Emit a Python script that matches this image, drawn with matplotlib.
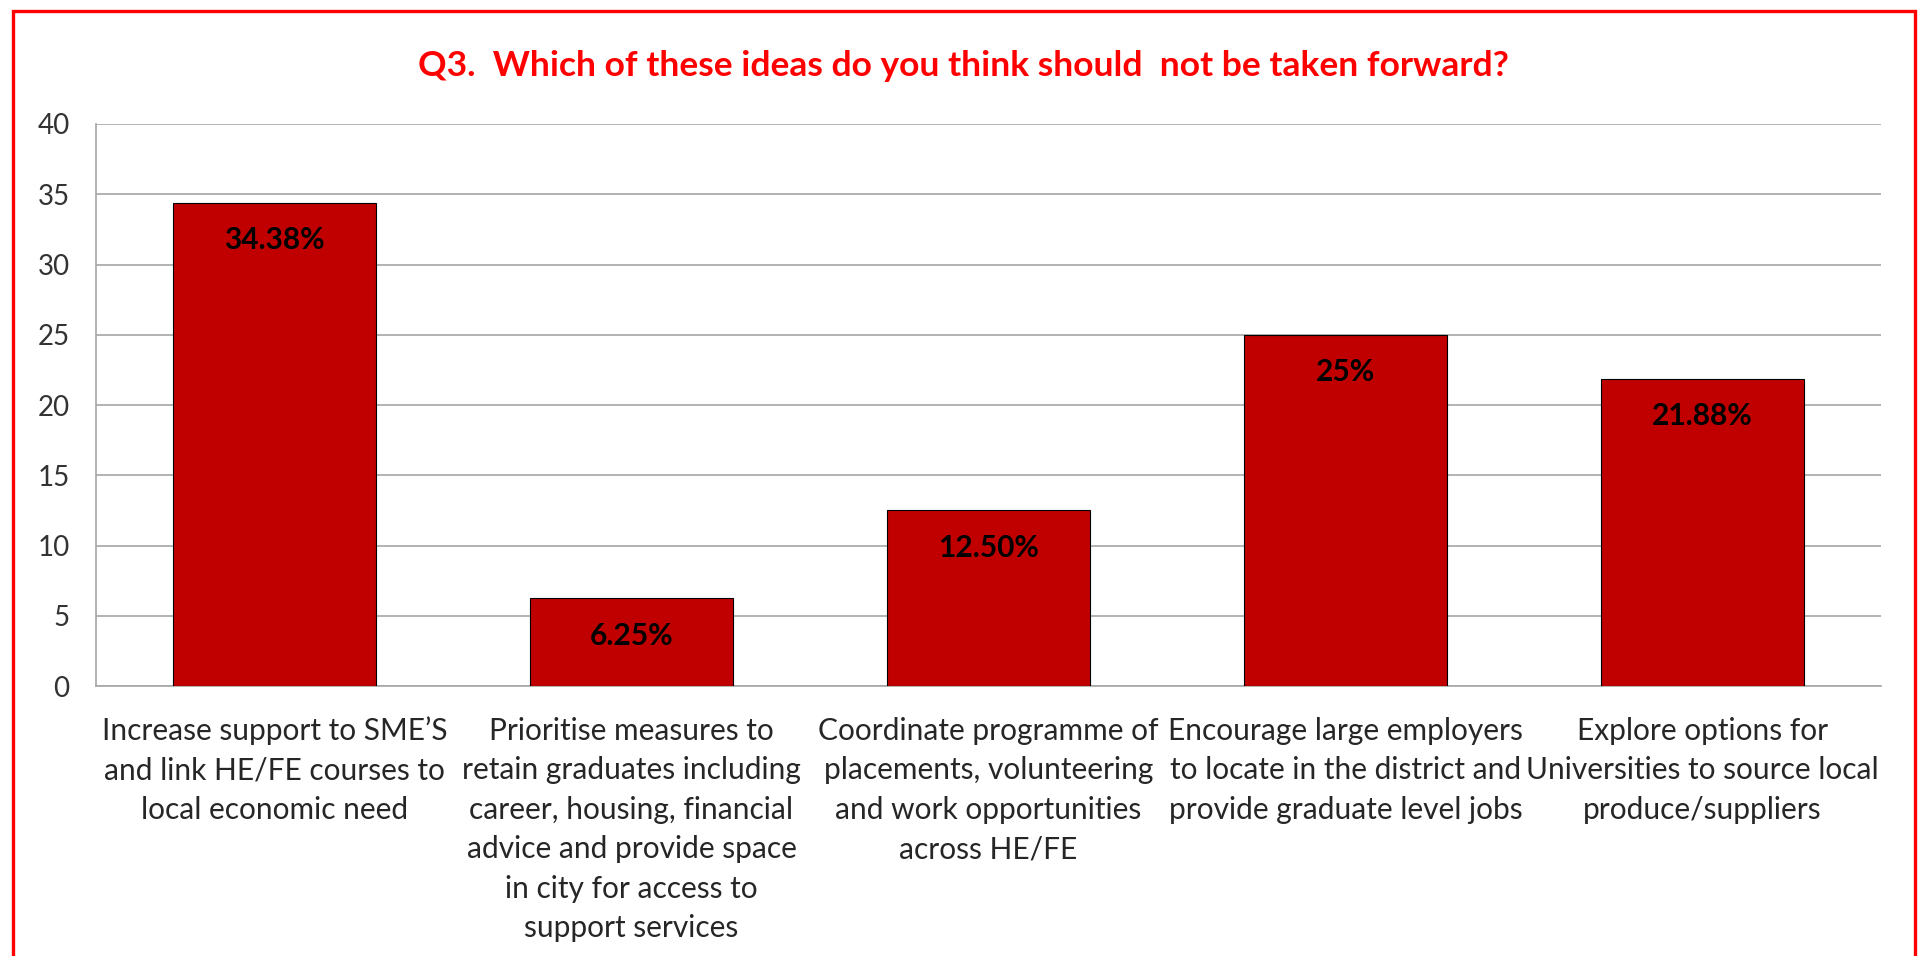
import matplotlib

matplotlib.use("Agg")
import matplotlib.pyplot as plt
from matplotlib.patches import Rectangle

categories = [
    "Increase support to SME\u2019S\nand link HE/FE courses to\nlocal economic need",
    "Prioritise measures to\nretain graduates including\ncareer, housing, financial\n"
    "advice and provide space\nin city for access to\nsupport services",
    "Coordinate programme of\nplacements, volunteering\nand work opportunities\nacross HE/FE",
    "Encourage large employers\nto locate in the district and\nprovide graduate level jobs",
    "Explore options for\nUniversities to source local\nproduce/suppliers",
]
values = [34.38, 6.25, 12.5, 25, 21.88]
value_labels = ["34.38%", "6.25%", "12.50%", "25%", "21.88%"]
yticks = [0, 5, 10, 15, 20, 25, 30, 35, 40]

title = "Q3.  Which of these ideas do you think should  not be taken forward?"

plt.rcParams["font.family"] = ["Lato", "DejaVu Sans"]

fig = plt.figure(figsize=(19.23, 9.56), dpi=100)
ax = fig.add_axes([0.0499, 0.2824, 0.9283, 0.5879])

x = list(range(len(values)))
ax.bar(x, values, width=0.57, color="#C00000", edgecolor="black", linewidth=0.8, zorder=3)

for xi, v, lab in zip(x, values, value_labels):
    ax.annotate(
        lab, (xi, v), xytext=(0, -27), textcoords="offset points",
        ha="center", va="center", fontsize=21.5, fontweight="bold", color="black", zorder=4,
    )

ax.set_xlim(-0.5, len(values) - 0.5)
ax.set_ylim(0, 40)
ax.set_yticks(yticks)
ax.set_yticklabels([str(t) for t in yticks], fontsize=20, color="#333333")
ax.set_xticks(x)
ax.set_xticklabels(categories, fontsize=21.5, color="#262626", linespacing=1.5)
ax.tick_params(axis="x", length=0, pad=22)
ax.tick_params(axis="y", length=0, pad=19)

ax.yaxis.grid(True, color="#A6A6A6", linewidth=1.2)
ax.set_axisbelow(True)
for side in ["top", "right"]:
    ax.spines[side].set_visible(False)
for side in ["left", "bottom"]:
    ax.spines[side].set_color("#A6A6A6")
    ax.spines[side].set_linewidth(1.2)

fig.text(0.501, 0.931, title, ha="center", va="center", fontsize=25.5,
         fontweight="bold", color="#FF0000")

# red frame round the chart, open at the bottom
fig.patches.append(Rectangle((13 / 1923, -0.05), 1902 / 1923, 1.05 - 11 / 956,
                             transform=fig.transFigure, fill=False,
                             edgecolor="#FF0000", linewidth=2.4))

plt.savefig("out.png", dpi=100)
